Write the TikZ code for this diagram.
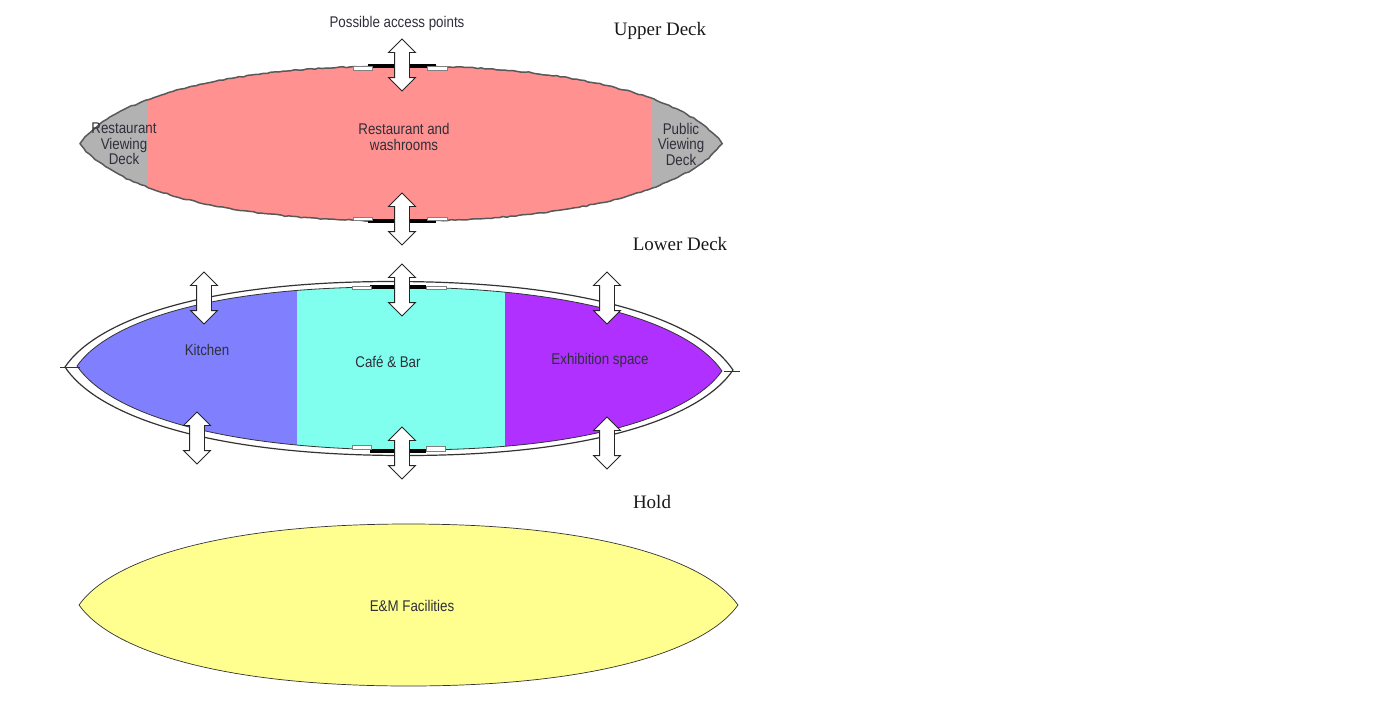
\documentclass[tikz,border=0pt]{standalone}
\usepackage{fontspec}
\usetikzlibrary{shapes.arrows,decorations.pathmorphing}
\setmainfont{Liberation Serif}
\newfontfamily\roomfont[FakeStretch=0.86]{Liberation Sans}
\definecolor{restpink}{HTML}{FF9191}
\definecolor{deckgray}{HTML}{B2B2B2}
\definecolor{kitchenblue}{HTML}{8080FF}
\definecolor{cafecyan}{HTML}{80FFEE}
\definecolor{expurple}{HTML}{B030FF}
\definecolor{holdyellow}{HTML}{FFFF90}
\definecolor{labelgray}{HTML}{2F2F3A}
% one hull outline, 100 units long and 200 units high
\newcommand{\hullpath}{(0,0) .. controls (4.5,-52) and (20,-100) .. (50,-100) .. controls (80,-100) and (95.5,-52) .. (100,0) .. controls (95.5,52) and (80,100) .. (50,100) .. controls (20,100) and (4.5,52) .. (0,0) -- cycle}
\tikzset{
  hullat/.style n args={5}{shift={(#1,#2)},rotate=#3,xscale=#4,yscale=#5},
  upperframe/.style={hullat={80}{143.5}{0}{6.42}{.775}},
  lowerframe/.style={hullat={77}{366}{-.44}{6.45}{.815}},
  outerframe/.style={hullat={65}{367}{-.26}{6.68}{.87}},
  holdframe/.style={hullat={79}{605}{0}{6.59}{.81}},
  accessarrow/.style={draw=black!85,fill=white,line width=.9pt,double arrow,shape border rotate=90,
    inner xsep=7pt,inner ysep=0pt,minimum width=26pt,minimum height=52pt,double arrow head extend=6pt},
  room/.style={font=\roomfont\fontsize{15.5}{15.5}\selectfont,text=labelgray,align=center,inner sep=0pt},
  decklabel/.style={font=\fontsize{19}{20}\selectfont,text=black!90,inner sep=0pt},
  roughline/.style={draw=black!65,line width=1.5pt,decorate,decoration={random steps,segment length=4pt,amplitude=.6pt}},
  hullline/.style={draw=black!80,line width=.8pt},
  doorwhite/.style={draw=black!50,fill=white,line width=.4pt},
  doorblack/.style={black,line width=3.5pt}
}
\begin{document}
\begin{tikzpicture}[x=1pt,y=-1pt]
  \useasboundingbox (0,0) rectangle (1384,720);
  % Upper deck
  \fill[deckgray,upperframe] \hullpath;
  \begin{scope}
    \clip (148,0) rectangle (652,300);
    \fill[restpink,upperframe] \hullpath;
  \end{scope}
  \draw[roughline,upperframe] \hullpath;
  \draw[doorblack] (368,66) -- (436,66);
  \draw[doorblack] (368,221) -- (436,221);
  \draw[doorwhite] (353,66) rectangle (372,70);
  \draw[doorwhite] (427,66) rectangle (447,70);
  \draw[doorwhite] (353,217) rectangle (372,220);
  \draw[doorwhite] (427,217) rectangle (447,220);
  % Lower deck
  \draw[hullline,line width=1.2pt,outerframe] \hullpath;
  \begin{scope}
    \clip (0,250) rectangle (297,480);
    \fill[kitchenblue,lowerframe] \hullpath;
  \end{scope}
  \begin{scope}
    \clip (297,250) rectangle (505,480);
    \fill[cafecyan,lowerframe] \hullpath;
  \end{scope}
  \begin{scope}
    \clip (505,250) rectangle (760,480);
    \fill[expurple,lowerframe] \hullpath;
  \end{scope}
  \draw[hullline,lowerframe] \hullpath;
  \coordinate (tailW) at (60,367);
  \coordinate (tailE) at (740,371);
  \coordinate (noseW) at (80,367);
  \coordinate (noseE) at (724,371);
  \draw[black!80,line width=.6pt] (tailW) -- (noseW);
  \draw[black!80,line width=.6pt] (noseE) -- (tailE);
  \draw[doorblack] (370,287) -- (426,287);
  \draw[doorblack] (370,451) -- (426,451);
  \draw[doorwhite] (352,286) rectangle (371,289);
  \draw[doorwhite] (426,286) rectangle (446,289);
  \draw[doorwhite] (352,445) rectangle (371,449);
  \draw[doorwhite] (426,446) rectangle (445,451);
  % Hold
  \draw[fill=holdyellow,draw=black!80,line width=.7pt,holdframe] \hullpath;
  % Access arrows
  \node[accessarrow] (upperA) at (402,65) {};
  \node[accessarrow] (upperB) at (402,219) {};
  \node[accessarrow] (lowerA) at (402,290) {};
  \node[accessarrow] (lowerB) at (204,298) {};
  \node[accessarrow] (lowerC) at (607,298) {};
  \node[accessarrow] (lowerD) at (197,438) {};
  \node[accessarrow] (lowerE) at (402,453) {};
  \node[accessarrow] (lowerF) at (607,443) {};
  % Labels
  \node[room] (access) at (397,23.5) {Possible access points};
  \node[decklabel] (upper) at (660,31) {Upper Deck};
  \node[decklabel] (lower) at (680,244) {Lower Deck};
  \node[decklabel] (hold) at (652,502) {Hold};
  \node[room] (restview) at (124,144) {Restaurant\\Viewing\\Deck};
  \node[room] (rest) at (404,137) {Restaurant and\\washrooms};
  \node[room] (pubview) at (681,144) {Public\\Viewing\\Deck};
  \node[room] (kitchen) at (207,350) {Kitchen};
  \node[room] (cafe) at (388,361.5) {Café \& Bar};
  \node[room] (exhibit) at (600,360.5) {Exhibition space};
  \node[room] (facil) at (412,605.5) {E\&M Facilities};
\end{tikzpicture}
\end{document}
